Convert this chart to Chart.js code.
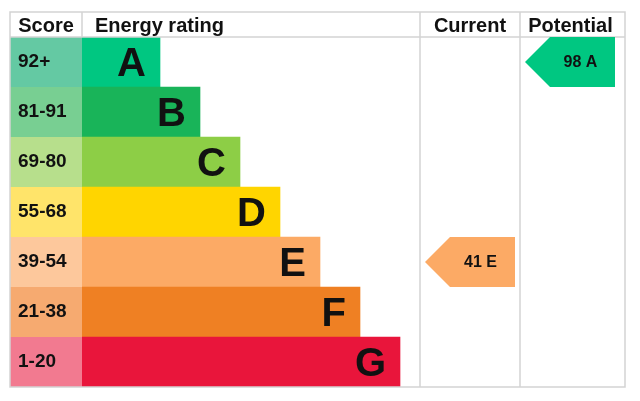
<!DOCTYPE html>
<html>
<head>
<meta charset="utf-8">
<script src="https://cdn.jsdelivr.net/npm/chart.js@4.4.0/dist/chart.umd.min.js"></script>
<style>
  html, body { margin:0; padding:0; background:#fff; }
  canvas { display:block; }
</style>
</head>
<body>
<canvas id="epc" width="640" height="401"></canvas>
<script>
// EPC bands, top (best) to bottom (worst)
const bands = ['A','B','C','D','E','F','G'];
const scoreRanges = ['92+','81-91','69-80','55-68','39-54','21-38','1-20'];
const bandLength = [2,3,4,5,6,7,8];
const bandColors = ['#00c781','#19b459','#8dce46','#ffd500','#fcaa65','#ef8023','#e9153b'];
const scoreColors = ['#64c9a3','#78cf92','#b7df8c','#ffe46a','#fdc89c','#f6aa70','#f27a90'];
const headers = ['Score','Energy rating','Current','Potential'];
const currentScore = 41, currentBand = 'E';
const potentialScore = 98, potentialBand = 'A';

const FONT = '"Liberation Sans", Arial, sans-serif';
const GRID = '#d3d3d3';

const epcPlugin = {
  id:'epc',
  afterDatasetsDraw(chart){
    const { ctx, chartArea:a, scales:{ x, y } } = chart;
    const rowH = (a.bottom - a.top) / bands.length;
    const top = 12, left = 10;
    const xp = v => x.getPixelForValue(v);
    ctx.save();

    // score column cells
    bands.forEach((b,i)=>{
      const cy = y.getPixelForValue(i);
      ctx.fillStyle = scoreColors[i];
      ctx.fillRect(left, cy - rowH/2, a.left + 2 - left, rowH);
      ctx.fillStyle = '#111';
      ctx.font = 'bold 19px ' + FONT;
      ctx.textAlign = 'left';
      ctx.textBaseline = 'alphabetic';
      ctx.fillText(scoreRanges[i], 18, cy + 4.5);
      // band letter
      ctx.font = 'bold 40px ' + FONT;
      ctx.textAlign = 'right';
      ctx.fillText(b, xp(bandLength[i]) - 14, cy + 14);
    });

    // grid
    ctx.strokeStyle = GRID;
    ctx.lineWidth = 1.5;
    ctx.strokeRect(left, top, a.right - left, a.bottom - top);
    const line = (x1,y1,x2,y2)=>{ ctx.beginPath(); ctx.moveTo(x1,y1); ctx.lineTo(x2,y2); ctx.stroke(); };
    line(left, a.top, a.right, a.top);
    line(a.left + 2, top, a.left + 2, a.top);
    line(xp(8.5), top, xp(8.5), a.bottom);
    line(xp(11), top, xp(11), a.bottom);

    // headers
    ctx.fillStyle = '#111';
    ctx.font = 'bold 20px ' + FONT;
    ctx.textBaseline = 'alphabetic';
    ctx.textAlign = 'center';
    ctx.fillText(headers[0], (left + a.left + 2)/2, 32);
    ctx.textAlign = 'left';
    ctx.fillText(headers[1], 95, 32);
    ctx.textAlign = 'center';
    ctx.fillText(headers[2], (xp(8.5) + xp(11))/2, 32);
    ctx.fillText(headers[3], (xp(11) + a.right)/2 - 2, 32);

    // arrows
    const arrow = (score, band, tip, start, end)=>{
      const i = bands.indexOf(band);
      const cy = y.getPixelForValue(i);
      const t = cy - rowH/2, bt = cy + rowH/2;
      ctx.fillStyle = bandColors[i];
      ctx.beginPath();
      ctx.moveTo(xp(tip), cy);
      ctx.lineTo(xp(start), t);
      ctx.lineTo(xp(end), t);
      ctx.lineTo(xp(end), bt);
      ctx.lineTo(xp(start), bt);
      ctx.closePath();
      ctx.fill();
      ctx.fillStyle = '#111';
      ctx.font = 'bold 16px ' + FONT;
      ctx.textAlign = 'center';
      ctx.fillText(score + ' ' + band, (xp(start) + xp(end))/2 - 2, cy + 5);
    };
    arrow(currentScore, currentBand, 8.625, 9.25, 10.875);
    arrow(potentialScore, potentialBand, 11.125, 11.75, 13.375);

    ctx.restore();
  }
};

new Chart(document.getElementById('epc'), {
  type:'bar',
  data:{
    labels:bands,
    datasets:[{ data:bandLength, backgroundColor:bandColors, borderWidth:0,
      barPercentage:1, categoryPercentage:1 }]
  },
  options:{
    indexAxis:'y',
    responsive:false,
    animation:false,
    layout:{ padding:{ left:80, top:37, right:15, bottom:14 } },
    scales:{
      x:{ display:false, min:0, max:13.625 },
      y:{ display:false }
    },
    plugins:{ legend:{ display:false }, tooltip:{ enabled:false } }
  },
  plugins:[epcPlugin]
});
</script>
</body>
</html>
